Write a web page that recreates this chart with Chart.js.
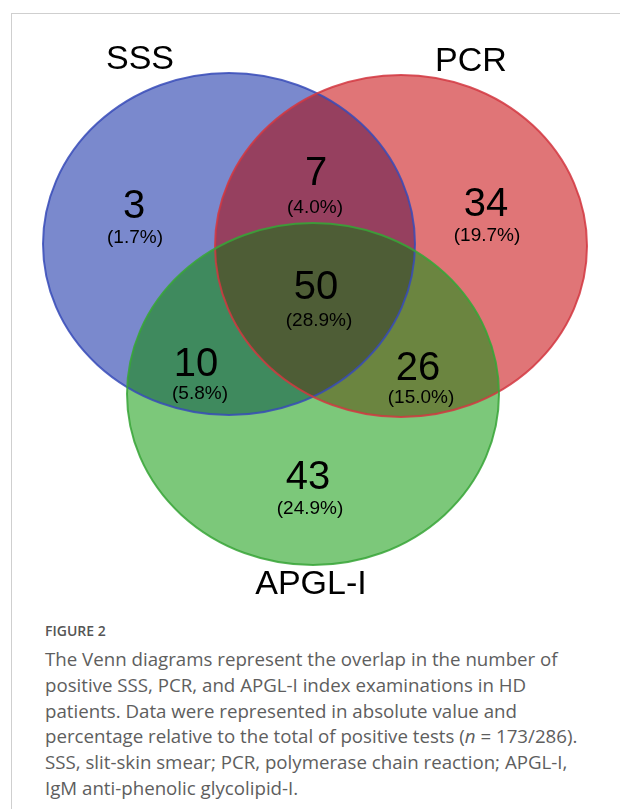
<!DOCTYPE html>
<html>
<head>
<meta charset="utf-8">
<script src="https://cdn.jsdelivr.net/npm/chart.js@4"></script>
<style>
  html, body { margin: 0; padding: 0; background: #fff; width: 620px; height: 809px; overflow: hidden; }
  #frame { position: absolute; left: 11px; top: 13px; width: 700px; height: 900px;
           border-left: 1px solid #cfcfcf; border-top: 1px solid #cfcfcf; }
  #wrap { position: absolute; left: 0; top: 0; width: 620px; height: 605px; }
  #cap { position: absolute; left: 45px; top: 621px; width: 575px; font-family: "Open Sans", sans-serif; color: #5e5e5e; }
  #cap .fig { font-size: 14px; font-weight: 600; color: #555; line-height: 20px; }
  #cap .txt { font-size: 18.7px; line-height: 25.8px; margin-top: 5px; white-space: nowrap; }
</style>
</head>
<body>
<div id="frame"></div>
<div id="wrap"><canvas id="c" width="620" height="605"></canvas></div>
<div id="cap">
  <div class="fig">FIGURE 2</div>
  <div class="txt">The Venn diagrams represent the overlap in the number of<br>positive SSS, PCR, and APGL-I index examinations in HD<br>patients. Data were represented in absolute value and<br>percentage relative to the total of positive tests (<i>n</i> = 173/286).<br>SSS, slit-skin smear; PCR, polymerase chain reaction; APGL-I,<br>IgM anti-phenolic glycolipid-I.</div>
</div>
<script>
// ---- data ----
const setNames = ['SSS', 'PCR', 'APGL-I'];
const regionNames = ['SSS only', 'SSS∩PCR', 'PCR only', 'SSS∩PCR∩APGL-I', 'SSS∩APGL-I', 'PCR∩APGL-I', 'APGL-I only'];
const regionCounts = [3, 7, 34, 50, 10, 26, 43];
const regionPercents = ['1.7', '4.0', '19.7', '28.9', '5.8', '15.0', '24.9'];

// ---- layout (positions / sizes, in scale units) ----
const setCenters = [{x: 229, y: 244}, {x: 401, y: 246}, {x: 313, y: 394}];
const setRadii = {rx: 186, ry: 171};
const setLabelPos = [{x: 140, y: 60}, {x: 471, y: 62}, {x: 311, y: 585}];
const regionPos = [{x: 134, y: 207}, {x: 316, y: 174}, {x: 486, y: 205}, {x: 316, y: 288},
                   {x: 196, y: 365}, {x: 418, y: 369}, {x: 308, y: 478}];
const pctPos = [{x: 135, y: 238}, {x: 315, y: 208}, {x: 487, y: 236}, {x: 319, y: 321},
                {x: 200, y: 394}, {x: 421, y: 398}, {x: 310, y: 509}];

// ---- styles ----
const singleFill = ['#7a89cd', '#e07577', '#7cc87a'];
const strokeCol = ['rgba(55,75,185,0.85)', 'rgba(210,55,65,0.85)', 'rgba(55,165,55,0.85)'];
const fillBR = '#96405f', fillBG = '#3f8a5e', fillRG = '#6b8540', fillBRG = '#4e5d36';

const vennPlugin = {
  id: 'venn',
  beforeDatasetsDraw(chart) {
    const ctx = chart.ctx;
    const xs = chart.scales.x, ys = chart.scales.y;
    const pts = chart.getDatasetMeta(0).data;
    const ell = pts.map((p, i) => {
      const c = setCenters[i];
      return {
        x: p.x, y: p.y,
        rx: Math.abs(xs.getPixelForValue(c.x + setRadii.rx) - xs.getPixelForValue(c.x)),
        ry: Math.abs(ys.getPixelForValue(c.y + setRadii.ry) - ys.getPixelForValue(c.y))
      };
    });
    const path = (e) => { ctx.beginPath(); ctx.ellipse(e.x, e.y, e.rx, e.ry, 0, 0, Math.PI * 2); };
    ctx.save();
    for (let i = 0; i < 3; i++) { path(ell[i]); ctx.fillStyle = singleFill[i]; ctx.fill(); }
    ctx.save(); path(ell[0]); ctx.clip(); path(ell[1]); ctx.fillStyle = fillBR; ctx.fill(); ctx.restore();
    ctx.save(); path(ell[0]); ctx.clip(); path(ell[2]); ctx.fillStyle = fillBG; ctx.fill(); ctx.restore();
    ctx.save(); path(ell[1]); ctx.clip(); path(ell[2]); ctx.fillStyle = fillRG; ctx.fill(); ctx.restore();
    ctx.save(); path(ell[0]); ctx.clip(); path(ell[1]); ctx.clip(); path(ell[2]); ctx.fillStyle = fillBRG; ctx.fill(); ctx.restore();
    ctx.lineWidth = 2;
    for (let i = 0; i < 3; i++) { path(ell[i]); ctx.strokeStyle = strokeCol[i]; ctx.stroke(); }
    ctx.restore();
  },
  afterDatasetsDraw(chart) {
    const ctx = chart.ctx;
    ctx.save();
    ctx.fillStyle = '#000';
    ctx.textAlign = 'center';
    ctx.textBaseline = 'middle';
    ctx.font = '34px "Liberation Sans", Arial, sans-serif';
    chart.getDatasetMeta(1).data.forEach((p, i) => ctx.fillText(setNames[i], p.x, p.y));
    ctx.font = '40px "Liberation Sans", Arial, sans-serif';
    chart.getDatasetMeta(2).data.forEach((p, i) => ctx.fillText(String(regionCounts[i]), p.x, p.y));
    ctx.font = '19px "Liberation Sans", Arial, sans-serif';
    chart.getDatasetMeta(3).data.forEach((p, i) => ctx.fillText('(' + regionPercents[i] + '%)', p.x, p.y));
    ctx.restore();
  }
};

new Chart(document.getElementById('c'), {
  type: 'scatter',
  data: {
    datasets: [
      { label: 'sets', data: setCenters, pointRadius: 0 },
      { label: 'set labels', data: setLabelPos, pointRadius: 0 },
      { label: 'regions', data: regionPos, pointRadius: 0 },
      { label: 'percents', data: pctPos, pointRadius: 0 }
    ]
  },
  options: {
    responsive: false,
    animation: false,
    devicePixelRatio: 1,
    layout: { padding: 0 },
    plugins: { legend: { display: false }, tooltip: { enabled: false } },
    scales: {
      x: { type: 'linear', min: 0, max: 620, display: false },
      y: { type: 'linear', min: 0, max: 605, reverse: true, display: false }
    }
  },
  plugins: [vennPlugin]
});
</script>
</body>
</html>
